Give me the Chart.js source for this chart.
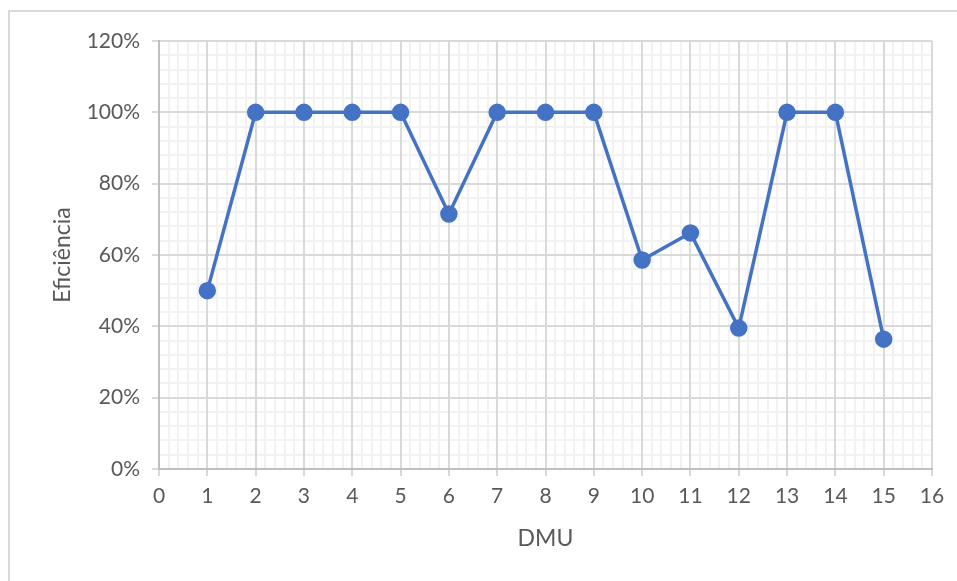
<!DOCTYPE html>
<html>
    <head>
        <title>Eficiencia DMU</title>
        <meta charset="utf-8" />
        <script src="https://cdn.jsdelivr.net/npm/chart.js@4.4.0/dist/chart.umd.min.js"></script>
        <style>
            body { margin: 0; overflow: hidden; background: #fff; }
            #moldura { position: absolute; left: 8px; top: 10px; width: 1000px; height: 700px; border: 2px solid #d9d9d9; pointer-events: none; }
            #kast { position: absolute; left: 0; top: 0; width: 957px; height: 581px; }
        </style>
        <script>
            // andmed
            const dmu = [1, 2, 3, 4, 5, 6, 7, 8, 9, 10, 11, 12, 13, 14, 15];
            const eficiencia = [50, 100, 100, 100, 100, 71.5, 100, 100, 100, 58.6, 66.2, 39.5, 100, 100, 36.4];
            const xMin = 0, xMax = 16;
            const yMin = 0, yMax = 120;

            const fonte = {family: "Lato, 'Open Sans', sans-serif", size: 21};
            const fonteTitulo = {family: "Lato, 'Open Sans', sans-serif", size: 23};
            const cinza = '#595959';

            let joonis = null;
            window.onload = function(){
                Chart.defaults.font.family = fonte.family;
                joonis = new Chart(document.getElementById("joonisekiht"), {
                    type: 'line',
                    data: {
                        datasets: [{
                            label: 'Eficiência',
                            data: dmu.map((d, i) => ({x: d, y: eficiencia[i]})),
                            borderColor: '#4472C4',
                            backgroundColor: '#4472C4',
                            borderWidth: 3.5,
                            pointRadius: 7,
                            pointHoverRadius: 7,
                            tension: 0
                        }]
                    },
                    options: {
                        responsive: false,
                        animation: false,
                        layout: {padding: {left: 9, top: 41, right: 25, bottom: 12}},
                        plugins: {legend: {display: false}, tooltip: {enabled: false}},
                        scales: {
                            // minor grid
                            xm: {
                                type: 'linear', position: 'bottom', min: xMin, max: xMax,
                                grid: {color: '#f2f2f2', lineWidth: 2, drawTicks: false},
                                border: {display: false},
                                ticks: {display: false, stepSize: 0.2, autoSkip: false, maxTicksLimit: 200},
                                afterFit: s => { s.height = 0; }
                            },
                            ym: {
                                type: 'linear', position: 'left', min: yMin, max: yMax,
                                grid: {color: '#f2f2f2', lineWidth: 2, drawTicks: false},
                                border: {display: false},
                                ticks: {display: false, stepSize: 4, autoSkip: false, maxTicksLimit: 200},
                                afterFit: s => { s.width = 0; }
                            },
                            x: {
                                type: 'linear', position: 'bottom', min: xMin, max: xMax,
                                grid: {color: '#d9d9d9', lineWidth: 2, tickLength: 7},
                                border: {color: '#bfbfbf', width: 2},
                                ticks: {stepSize: 1, autoSkip: false, maxTicksLimit: 100, color: cinza, font: fonte, padding: 8, maxRotation: 0},
                                title: {display: true, text: 'DMU', color: cinza, font: fonteTitulo, padding: {bottom: 17}},
                                afterFit: s => { s.height = 100; }
                            },
                            y: {
                                type: 'linear', position: 'left', min: yMin, max: yMax,
                                grid: {color: '#d9d9d9', lineWidth: 2, tickLength: 7},
                                border: {color: '#bfbfbf', width: 2},
                                ticks: {stepSize: 20, autoSkip: false, color: cinza, font: fonte, padding: 12,
                                    callback: v => v + '%'},
                                title: {display: true, text: 'Eficiência', color: cinza, font: fonteTitulo, padding: {top: 40}},
                                afterFit: s => { s.width = 150; }
                            }
                        }
                    }
                });
            }
        </script>
    </head>
    <body>
        <div id="kast">
            <canvas id="joonisekiht" width="957" height="581"></canvas>
        </div>
        <div id="moldura"></div>
    </body>
</html>
